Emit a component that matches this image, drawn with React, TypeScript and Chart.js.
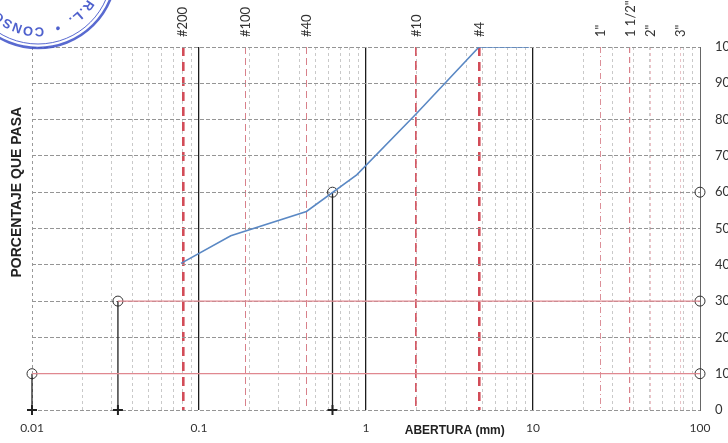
import React, { useEffect, useRef } from 'react';
import { Chart, registerables } from 'chart.js';

Chart.register(...registerables);

// ---- data ----
const sieveLabels = ['#200', '#100', '#40', '#10', '#4', '1"', '1 1/2"', '2"', '3"'];
const sieveSizes = [0.08, 0.19, 0.44, 2.0, 4.75, 25.4, 38.1, 50.8, 76.2];

const curveSizes = [0.078, 0.155, 0.44, 0.88, 2.0, 4.75, 9.5];
const curvePassing = [40.4, 48, 54.7, 64.8, 81.6, 100, 100];

const dSizes = [0.01, 0.0327, 0.63]; // D10, D30, D60
const dPassing = [10, 30, 60];

const xTickValues = [0.01, 0.1, 1, 10, 100];
const xTickLabels = ['0.01', '0.1', '1', '10', '100'];

const yTitle = 'PORCENTAJE QUE PASA';
const xTitle = 'ABERTURA (mm)';
const stampText = 'R.L.  \u2022  CONSO';

// ---- styles for the sieve lines (index-aligned with sieveSizes) ----
const sieveStyle = [
  { w: 2.6, dash: [9, 6], color: '#d24c58' },
  { w: 1, dash: [7, 4], color: '#d8808a' },
  { w: 1, dash: [7, 4], color: '#d8808a' },
  { w: 1.7, dash: [9, 5], color: '#d45a66' },
  { w: 2.6, dash: [9, 6], color: '#d24c58' },
  { w: 1, dash: [6, 3, 1, 3], color: '#dc8f98' },
  { w: 1.2, dash: [6, 4], color: '#d8808a' },
  { w: 0.8, dash: [3, 3], color: '#e6b3b9' },
  { w: 0.8, dash: [3, 3], color: '#e6b3b9' },
];

const isDecade = (v: number) => Math.abs(Math.log10(v) - Math.round(Math.log10(v))) < 1e-6;

const minorTicks: number[] = [];
for (let e = -2; e < 2; e++) {
  for (let m = 1; m <= 9; m++) minorTicks.push(+(m * Math.pow(10, e)).toPrecision(3));
}
minorTicks.push(100);

const annotations = {
  id: 'annotations',
  afterDraw(chart: any) {
    const ctx: CanvasRenderingContext2D = chart.ctx;
    const a = chart.chartArea;
    const xs = chart.scales.x;
    ctx.save();
    ctx.fillStyle = '#222';
    ctx.font = 'bold 14px "Liberation Sans", Arial, sans-serif';
    ctx.translate(a.left - 15, a.top + (a.bottom - a.top) * 0.4);
    ctx.rotate(-Math.PI / 2);
    ctx.textAlign = 'center';
    ctx.textBaseline = 'middle';
    ctx.fillText(yTitle, 0, 0);
    ctx.restore();

    ctx.save();
    ctx.fillStyle = '#222';
    ctx.font = 'bold 12px "Liberation Sans", Arial, sans-serif';
    ctx.textAlign = 'center';
    ctx.textBaseline = 'middle';
    ctx.fillText(xTitle, xs.getPixelForValue(3.4), a.bottom + 21);
    ctx.restore();

    // stamp
    const cx = 38, cy = -30;
    ctx.save();
    ctx.strokeStyle = 'rgba(60,80,200,0.85)';
    ctx.lineWidth = 2.6;
    ctx.beginPath();
    ctx.arc(cx, cy, 78, 0, Math.PI * 2);
    ctx.stroke();
    ctx.lineWidth = 1;
    ctx.beginPath();
    ctx.arc(cx, cy, 74, 0, Math.PI * 2);
    ctx.stroke();
    ctx.fillStyle = 'rgba(60,80,200,0.9)';
    ctx.font = 'bold 13px "Liberation Sans", Arial, sans-serif';
    ctx.textAlign = 'center';
    ctx.textBaseline = 'middle';
    let th = (30 * Math.PI) / 180;
    const r = 61;
    for (const ch of stampText) {
      const w = ctx.measureText(ch).width + 1.5;
      const dth = w / r;
      const t = th + dth / 2;
      ctx.save();
      ctx.translate(cx + r * Math.cos(t), cy + r * Math.sin(t));
      ctx.rotate(t + Math.PI / 2);
      ctx.fillText(ch, 0, 0);
      ctx.restore();
      th += dth;
    }
    ctx.restore();
  },
};

export default function App() {
  const ref = useRef<HTMLCanvasElement | null>(null);

  useEffect(() => {
    if (!ref.current) return;
    const pts = (xs: number[], ys: number[]) => xs.map((x, i) => ({ x, y: ys[i] }));
    const datasets: any[] = [
      {
        label: 'curva',
        data: pts(curveSizes, curvePassing),
        borderColor: '#5a88c4',
        borderWidth: 1.6,
        showLine: true,
        pointRadius: 0,
        tension: 0,
      },
    ];
    // horizontal red lines at D10 and D30
    [0, 1].forEach((i) => {
      datasets.push({
        label: 'h' + i,
        data: [
          { x: dSizes[i], y: dPassing[i] },
          { x: 100, y: dPassing[i] },
        ],
        borderColor: '#e08890',
        borderWidth: 1.2,
        showLine: true,
        pointRadius: 0,
      });
    });
    // vertical drop lines
    dSizes.forEach((d, i) => {
      datasets.push({
        label: 'v' + i,
        data: [
          { x: d, y: 0 },
          { x: d, y: dPassing[i] },
        ],
        borderColor: '#222',
        borderWidth: 1.3,
        showLine: true,
        pointRadius: 0,
        clip: false,
      });
    });
    datasets.push({
      label: 'dpts',
      data: pts(dSizes, dPassing),
      showLine: false,
      pointStyle: 'circle',
      pointRadius: 5,
      pointBorderColor: '#333',
      pointBackgroundColor: 'rgba(0,0,0,0)',
      pointBorderWidth: 1,
      clip: false,
    });
    datasets.push({
      label: 'rpts',
      data: dPassing.map((p) => ({ x: 100, y: p })),
      showLine: false,
      pointStyle: 'circle',
      pointRadius: 5,
      pointBorderColor: '#333',
      pointBackgroundColor: 'rgba(0,0,0,0)',
      pointBorderWidth: 1,
      clip: false,
    });
    datasets.push({
      label: 'base',
      data: dSizes.map((d) => ({ x: d, y: 0 })),
      showLine: false,
      pointStyle: 'cross',
      pointRadius: 5,
      pointBorderColor: '#222',
      pointBorderWidth: 2,
      clip: false,
    });

    const chart = new Chart(ref.current, {
      type: 'scatter',
      data: { datasets },
      options: {
        animation: false,
        responsive: false,
        maintainAspectRatio: false,
        layout: { padding: 0 },
        plugins: { legend: { display: false }, tooltip: { enabled: false } },
        scales: {
          x: {
            type: 'logarithmic',
            position: 'bottom',
            min: 0.01,
            max: 100,
            afterBuildTicks: (s: any) => {
              s.ticks = minorTicks.map((v) => ({ value: v }));
            },
            afterFit: (s: any) => {
              s.height = 33;
            },
            ticks: {
              autoSkip: false,
              maxRotation: 0,
              minRotation: 0,
              padding: 11,
              color: '#333',
              font: { family: 'Lato, "Liberation Sans", sans-serif', size: 12 },
              callback: (v: any) => {
                const i = xTickValues.findIndex((t) => Math.abs(t - Number(v)) < 1e-9);
                return i >= 0 ? xTickLabels[i] : '';
              },
            },
            grid: {
              drawTicks: false,
              color: (c: any) => {
                const v = c.tick ? c.tick.value : 1;
                if (v >= 99) return '#777';
                if (v <= 0.0101) return '#9a9a9a';
                if (isDecade(v)) return '#1c1c1c';
                return '#c9c9c9';
              },
              lineWidth: (c: any) => {
                const v = c.tick ? c.tick.value : 1;
                if (v > 0.011 && v < 99 && isDecade(v)) return 1.3;
                return 1;
              },
            },
            border: {
              display: false,
              dash: (c: any) => {
                const v = c.tick ? c.tick.value : 1;
                if (v >= 99) return [];
                if (v > 0.011 && isDecade(v)) return [];
                return [3, 3];
              },
            },
          },
          x2: {
            type: 'logarithmic',
            position: 'top',
            min: 0.01,
            max: 100,
            afterBuildTicks: (s: any) => {
              s.ticks = sieveSizes.map((v) => ({ value: v }));
            },
            afterFit: (s: any) => {
              s.height = 47;
            },
            ticks: {
              autoSkip: false,
              maxRotation: 90,
              minRotation: 90,
              padding: 10,
              labelOffset: 16,
              color: '#333',
              font: { family: 'Lato, "Liberation Sans", sans-serif', size: 13 },
              callback: (_v: any, i: number) => sieveLabels[i],
            },
            grid: {
              drawTicks: false,
              color: (c: any) => sieveStyle[c.index]?.color ?? '#d8808a',
              lineWidth: (c: any) => sieveStyle[c.index]?.w ?? 1,
            },
            border: {
              display: false,
              dash: (c: any) => sieveStyle[c.index]?.dash ?? [6, 4],
            },
          },
          y: {
            type: 'linear',
            position: 'left',
            min: 0,
            max: 100,
            afterFit: (s: any) => {
              s.width = 32;
            },
            ticks: { display: false, stepSize: 10 },
            grid: { drawTicks: false, color: '#959595', lineWidth: 1 },
            border: { display: false, dash: [4, 2] },
          },
          y2: {
            type: 'linear',
            position: 'right',
            min: 0,
            max: 100,
            afterFit: (s: any) => {
              s.width = 28;
            },
            ticks: {
              stepSize: 10,
              padding: 15,
              color: '#333',
              font: { family: 'Lato, "Liberation Sans", sans-serif', size: 13 },
            },
            grid: { drawTicks: false, drawOnChartArea: false },
            border: { display: true, color: '#666', width: 1 },
          },
        },
      },
      plugins: [annotations],
    } as any);
    return () => chart.destroy();
  }, []);

  return (
    <div style={{ position: 'fixed', left: 0, top: 0, width: 728, height: 443, background: '#fff' }}>
      <canvas ref={ref} width={728} height={443} />
    </div>
  );
}
